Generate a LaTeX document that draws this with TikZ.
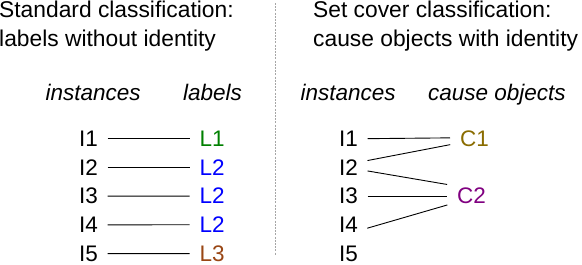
\documentclass[tikz,border=0pt]{standalone}
\usepackage{fontspec}
\setmainfont{Liberation Sans}
\usepackage{xcolor}
\usepackage{tikz}
\usetikzlibrary{positioning}
\definecolor{labgreen}{RGB}{0,128,0}
\definecolor{labblue}{RGB}{0,0,255}
\definecolor{labbrown}{RGB}{153,70,20}
\definecolor{causeolive}{RGB}{138,108,0}
\definecolor{causepurple}{RGB}{128,0,128}
\tikzset{
  heading/.style={anchor=base west, inner sep=0pt, font=\fontsize{22.8}{29}\selectfont},
  colhead/.style={anchor=base west, inner sep=0pt, font=\fontsize{22.5}{29}\selectfont\itshape},
  item/.style={anchor=base west, inner sep=0pt, font=\fontsize{22.5}{29}\selectfont},
  link/.style={line width=0.9pt, shorten <=9.5pt, shorten >=10pt},
  divider/.style={gray!70, line width=0.8pt, dash pattern=on 2pt off 1.2pt}
}
\begin{document}
\begin{tikzpicture}[x=1pt,y=-1pt]
\useasboundingbox (0,0) rectangle (582,265);
% titles
\node[heading] (stdA) at (-1,17) {Standard classification:};
\node[heading] (stdB) at (-1,46) {labels without identity};
\node[heading] (setA) at (313,17) {Set cover classification:};
\node[heading] (setB) at (313,46) {cause objects with identity};
\coordinate (divtop) at (275,3);
\coordinate (divbot) at (275,255);
\draw[divider] (divtop) -- (divbot);
% column heads
\node[colhead] (instL) at (45.5,100) {instances};
\node[colhead] (labH) at (183,100) {labels};
\node[colhead] (instR) at (300.5,100) {instances};
\node[colhead] (causeH) at (428,100) {cause objects};
% standard classification
\foreach \k/\lab/\col in {1/L1/labgreen,2/L2/labblue,3/L2/labblue,4/L2/labblue,5/L3/labbrown}{
  \node[item] (i\k) at (79,{146.5+28.7*(\k-1)}) {I\k};
  \node[item,text=\col] (l\k) at (199.5,{146.5+28.7*(\k-1)}) {\lab};
  \draw[link] (i\k.east) -- (l\k.west);
}
% set cover classification
\foreach \k in {1,...,5}{
  \node[item] (r\k) at (339,{146.5+28.7*(\k-1)}) {I\k};
}
\node[item,text=causeolive] (c1) at (460,146.5) {C1};
\node[item,text=causepurple] (c2) at (457,203.9) {C2};
\draw[link] (r1.east) -- ([yshift=1pt]c1.west);
\draw[link] ([yshift=5pt]r2.east) -- ([yshift=-4pt]c1.west);
\draw[link] ([yshift=-2pt]r2.east) -- ([yshift=10pt]c2.west);
\draw[link] (r3.east) -- (c2.west);
\draw[link] ([yshift=-6pt]r4.east) -- ([yshift=-6pt]c2.west);
\end{tikzpicture}
\end{document}
